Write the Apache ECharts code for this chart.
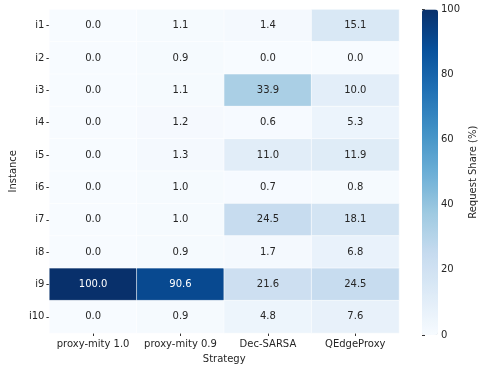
<!DOCTYPE html>
<html>
<head>
<meta charset="utf-8">
<script src="https://cdn.jsdelivr.net/npm/echarts@6/dist/echarts.min.js"></script>
<style>
  html, body { margin: 0; padding: 0; background: #fff; }
  #chart { width: 479px; height: 369px; }
</style>
</head>
<body>
<div id="chart"></div>
<script>
// data
const strategies = ['proxy-mity 1.0', 'proxy-mity 0.9', 'Dec-SARSA', 'QEdgeProxy'];
const instances = ['i1', 'i2', 'i3', 'i4', 'i5', 'i6', 'i7', 'i8', 'i9', 'i10'];
const proxyMity10 = [0.0, 0.0, 0.0, 0.0, 0.0, 0.0, 0.0, 0.0, 100.0, 0.0];
const proxyMity09 = [1.1, 0.9, 1.1, 1.2, 1.3, 1.0, 1.0, 0.9, 90.6, 0.9];
const decSarsa = [1.4, 0.0, 33.9, 0.6, 11.0, 0.7, 24.5, 1.7, 21.6, 4.8];
const qEdgeProxy = [15.1, 0.0, 10.0, 5.3, 11.9, 0.8, 18.1, 6.8, 24.5, 7.6];
const colorbarTicks = [0, 20, 40, 60, 80, 100];

const blues = ['#f7fbff', '#deebf7', '#c6dbef', '#9ecae1', '#6baed6',
               '#4292c6', '#2171b5', '#08519c', '#08306b'];
const FONT = 'DejaVu Sans';

const columns = [proxyMity10, proxyMity09, decSarsa, qEdgeProxy];
const cells = [];
columns.forEach((col, x) => {
  col.forEach((v, y) => {
    cells.push({
      value: [x, y, v],
      label: { color: v > 60 ? '#ffffff' : '#262626' }
    });
  });
});

const chart = echarts.init(document.getElementById('chart'), null, { renderer: 'canvas' });

chart.setOption({
  animation: false,
  backgroundColor: '#ffffff',
  textStyle: { fontFamily: FONT },
  grid: [
    { left: 38, top: 9.5, width: 361, height: 326.5 },
    { left: 422, top: 9.5, width: 16, height: 325.5 }
  ],
  xAxis: [
    {
      type: 'category',
      gridIndex: 0,
      data: strategies,
      axisLine: { show: false },
      axisTick: { show: true, interval: 0, alignWithLabel: true, length: 3, lineStyle: { color: '#333' } },
      axisLabel: { interval: 0, fontSize: 10, color: '#262626', fontFamily: FONT, margin: 6 },
      name: 'Strategy',
      nameLocation: 'middle',
      nameGap: 21,
      nameTextStyle: { fontSize: 10, color: '#262626', fontFamily: FONT },
      splitArea: { show: false }
    },
    {
      type: 'value',
      gridIndex: 1,
      show: false,
      min: 0,
      max: 1
    }
  ],
  yAxis: [
    {
      type: 'category',
      gridIndex: 0,
      data: instances,
      inverse: true,
      axisLine: { show: false },
      axisTick: { show: true, interval: 0, alignWithLabel: true, length: 3, lineStyle: { color: '#333' } },
      axisLabel: { interval: 0, fontSize: 10, color: '#262626', fontFamily: FONT, margin: 5 },
      name: 'Instance',
      nameLocation: 'middle',
      nameGap: 26,
      nameTextStyle: { fontSize: 10, color: '#262626', fontFamily: FONT }
    },
    {
      type: 'value',
      gridIndex: 1,
      position: 'right',
      min: 0,
      max: 100,
      interval: 20,
      axisLine: { show: false },
      splitLine: { show: false },
      axisTick: { show: true, length: 3, lineStyle: { color: '#333' } },
      axisLabel: {
        fontSize: 10, color: '#262626', fontFamily: FONT, margin: 5,
        formatter: v => colorbarTicks.includes(v) ? String(v) : ''
      },
      name: 'Request Share (%)',
      nameLocation: 'middle',
      nameGap: 32,
      nameTextStyle: { fontSize: 10, color: '#262626', fontFamily: FONT }
    }
  ],
  visualMap: {
    type: 'continuous',
    min: 0,
    max: 100,
    seriesIndex: 0,
    calculable: false,
    orient: 'vertical',
    left: 422,
    top: 9.5,
    padding: 0,
    itemWidth: 16,
    itemHeight: 325.5,
    text: ['', ''],
    showLabel: false,
    inRange: { color: blues }
  },
  series: [
    {
      type: 'heatmap',
      xAxisIndex: 0,
      yAxisIndex: 0,
      data: cells,
      itemStyle: { borderColor: '#ffffff', borderWidth: 0.6 },
      label: {
        show: true,
        fontSize: 10,
        fontFamily: FONT,
        formatter: p => p.value[2].toFixed(1)
      },
      emphasis: { disabled: true }
    },
    {
      type: 'line',
      xAxisIndex: 1,
      yAxisIndex: 1,
      data: [],
      silent: true
    }
  ]
});
</script>
</body>
</html>
